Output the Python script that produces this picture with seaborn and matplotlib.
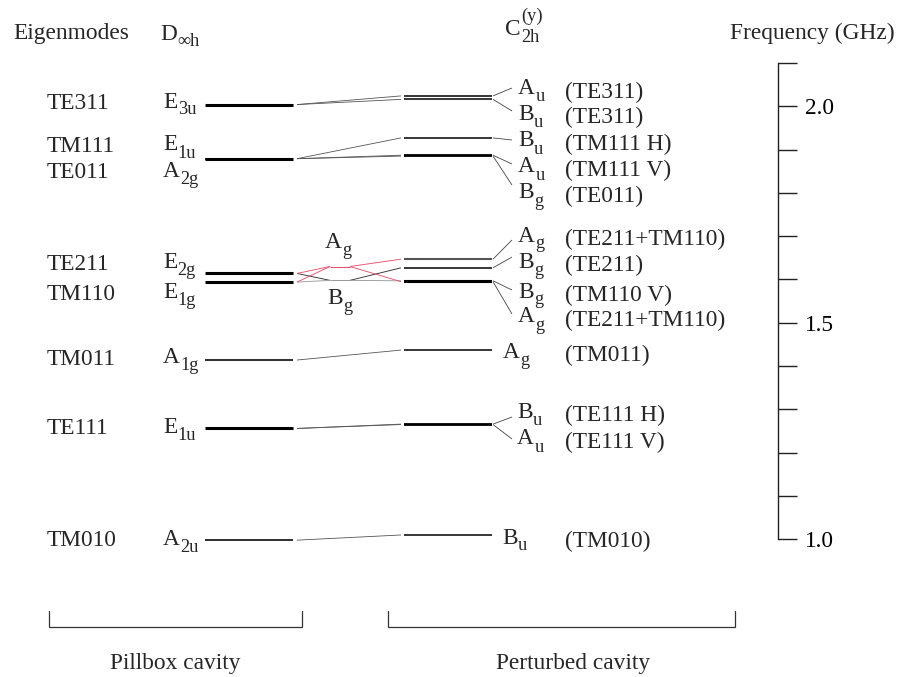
import numpy as np
import pandas as pd
import matplotlib
matplotlib.use("Agg")
import matplotlib.pyplot as plt
import seaborn as sns

# ------------------------------------------------------------------ data
# Pillbox cavity (D_inf_h) eigenmodes
pill_modes = ["TE311", "TM111", "TE011", "TE211", "TM110", "TM011", "TE111", "TM010"]
pill_symm = [("E", "3u"), ("E", "1u"), ("A", "2g"), ("E", "2g"), ("E", "1g"),
             ("A", "1g"), ("E", "1u"), ("A", "2u")]
pill_freq = [2.004, 1.879, 1.879, 1.614, 1.594, 1.414, 1.256, 0.998]

# Intermediate (crossing) levels between TE211 / TM110
mid_symm = [("A", "g"), ("B", "g")]
mid_freq = [1.630, 1.598]

# Perturbed cavity (C2h^(y)) modes
pert_symm = [("A", "u"), ("B", "u"), ("B", "u"), ("A", "u"), ("B", "g"), ("A", "g"),
             ("B", "g"), ("B", "g"), ("A", "g"), ("A", "g"), ("B", "u"), ("A", "u"),
             ("B", "u")]
pert_modes = ["(TE311)", "(TE311)", "(TM111 H)", "(TM111 V)", "(TE011)",
              "(TE211+TM110)", "(TE211)", "(TM110 V)", "(TE211+TM110)",
              "(TM011)", "(TE111 H)", "(TE111 V)", "(TM010)"]
pert_freq = [2.024, 2.016, 1.927, 1.887, 1.885, 1.647, 1.627, 1.597, 1.595,
             1.437, 1.266, 1.265, 1.010]
# direct parent in pillbox list (None -> via intermediate crossing)
pert_parent = [0, 0, 1, 1, 2, None, None, None, None, 5, 6, 6, 7]

# crossing connections: (pillbox idx, mid idx, kind) and (mid idx, pert idx, kind)
pill_to_mid = [(3, 0, "red"), (4, 0, "red"), (3, 1, "dark"), (4, 1, "gray")]
mid_to_pert = [(0, 5, "red"), (0, 8, "red"), (1, 6, "dark"), (1, 7, "gray")]

freq_ticks = [1.0, 1.1, 1.2, 1.3, 1.4, 1.5, 1.6, 1.7, 1.8, 1.9, 2.0, 2.1]
freq_labels = ["1.0", "", "", "", "", "1.5", "", "", "", "", "2.0", ""]

# ------------------------------------------------------------------ layout
W, H = 901, 677
PX0, PPG = 539.3, 433.0          # pixel row of 1.0 GHz, pixels per GHz


def f(py):                        # pixel row -> frequency (layout helper)
    return 1.0 + (PX0 - py) / PPG


FS = 16.8
SUB = 13.2
sns.set_theme(style="white")
plt.rcParams["font.family"] = ["Liberation Serif", "DejaVu Serif", "DejaVu Sans"]

fig = plt.figure(figsize=(W / 100, H / 100), dpi=100)
fig.patch.set_facecolor("white")
ax = fig.add_axes([0, 0, 1, 1])
renderer = fig.canvas.get_renderer()

RED = "#e8506e"
COL = {"red": RED, "dark": "#333333", "gray": "#9a9a9a"}

# x extents (layout)
PB = (205, 293)      # pillbox levels
PT = (404, 492)      # perturbed levels
CX = (297, 401)      # connectors
MX = (330, 350)      # crossing intermediate
FX = (493, 512)      # fans

segs = []            # x0, x1, y0, y1, color, lw


def seg(x0, x1, y0, y1, color, lw):
    segs.append(dict(x0=x0, x1=x1, y0=y0, y1=y1, color=color, lw=lw))


# pillbox levels (degenerate E levels drawn thicker)
for s, fr in zip(pill_symm, pill_freq):
    seg(PB[0], PB[1], fr, fr, "black", 2.2 if s[0] == "E" else 1.15)

# perturbed levels
pert_lw = [1.1, 1.1, 1.1, 1.3, 1.3, 1.5, 1.1, 1.5, 1.5, 1.1, 1.3, 1.3, 1.1]
pert_col = ["black"] * 13
pert_col[5] = "#555555"
for fr, lw, c in zip(pert_freq, pert_lw, pert_col):
    seg(PT[0], PT[1], fr, fr, c, lw)

# direct connectors
for i, p in enumerate(pert_parent):
    if p is not None:
        seg(CX[0], CX[1], pill_freq[p], pert_freq[i], "#555555", 0.6)

# crossing
for m, fr in enumerate(mid_freq):
    seg(MX[0], MX[1], fr, fr, RED if m == 0 else COL["gray"], 0.75)
for p, m, k in pill_to_mid:
    seg(CX[0], MX[0], pill_freq[p], mid_freq[m], COL[k], 0.65)
for m, q, k in mid_to_pert:
    seg(MX[1], CX[1], mid_freq[m], pert_freq[q], COL[k], 0.65)

# fans from perturbed level to its label
fan_target = [88, 111, 140, 164, 185, 240, 257, 290, 314, None, 417, 439, None]
for fr, t in zip(pert_freq, fan_target):
    if t is not None:
        seg(FX[0], FX[1], fr, f(t), "#444444", 0.6)

# draw all segments with seaborn, grouped by style
rows = []
for k, s in enumerate(segs):
    rows.append(dict(x=s["x0"], y=s["y0"], seg=k, color=s["color"], lw=s["lw"]))
    rows.append(dict(x=s["x1"], y=s["y1"], seg=k, color=s["color"], lw=s["lw"]))
df = pd.DataFrame(rows)
for (c, lw), g in df.groupby(["color", "lw"]):
    sns.lineplot(data=g, x="x", y="y", units="seg", estimator=None, sort=False,
                 color=c, lw=lw, ax=ax, legend=False, solid_capstyle="butt")
ax.set_xlim(0, W)
ax.set_ylim(f(H), f(0))
ax.axis("off")


# ------------------------------------------------------------------ texts
def T(x, y, s, size=FS, ha="left"):
    t = fig.text(x / W, 1 - y / H, s, fontsize=size, va="baseline", ha=ha)
    return t


def SYM(x, y, main, sub=None, sup=None, drop=7.0, rise=14.5):
    t = T(x, y, main)
    bb = t.get_window_extent(renderer)
    xr = bb.x1 + 0.5
    if sub:
        T(xr, y + drop, sub, size=SUB)
    if sup:
        T(xr, y - rise, sup, size=SUB)


T(13, 39.5, "Eigenmodes")
SYM(160, 39.5, "D", "\u221eh")
SYM(505, 35, "C", "2h", "(y)", drop=6.5)
T(730, 39.5, "Frequency (GHz)")

pill_base = [109, 152.5, 178, 270, 300, 365, 434, 546]
pill_sym_base = [107.5, 150.5, 177, 268, 298, 363, 433, 545]
for m, s, yb, ys in zip(pill_modes, pill_symm, pill_base, pill_sym_base):
    T(46.5, yb, m)
    SYM(163, ys, s[0], s[1])

# crossing labels
SYM(325, 248, *mid_symm[0])
SYM(327, 304, *mid_symm[1])

pert_base = [97.7, 123.3, 150, 176, 202, 245, 271.5, 301, 326, 361.5, 421.5, 448, 547]
pert_sx = [518, 518, 518, 518, 518, 518, 518, 518, 518, 503, 517, 517, 502]
for s, m, yb, sx in zip(pert_symm, pert_modes, pert_base, pert_sx):
    SYM(sx, yb - 3.5, s[0], s[1])
    T(565, yb, m)

# brackets and bottom captions
for x0, x1 in [(49, 302), (388, 735)]:
    ax.plot([x0, x0, x1, x1], [f(611), f(627), f(627), f(611)], color="#333333",
            lw=0.9, solid_joinstyle="miter")
T(175, 669, "Pillbox cavity", ha="center")
T(573, 669, "Perturbed cavity", ha="center")

# ------------------------------------------------------------------ frequency axis
ax2 = fig.add_axes([778 / W, 1 - PX0 / H, 19 / W, (PX0 - 63) / H])
ax2.set_facecolor("none")
ax2.set_ylim(freq_ticks[0], freq_ticks[-1])
ax2.set_xticks([])
ax2.yaxis.tick_right()
ax2.set_yticks(freq_ticks)
ax2.set_yticklabels(freq_labels)
for side in ["top", "right", "bottom"]:
    ax2.spines[side].set_visible(False)
ax2.spines["left"].set_visible(True)
ax2.spines["left"].set_color("#222222")
ax2.spines["left"].set_linewidth(1.0)
ax2.tick_params(axis="y", direction="in", length=19 * 0.72, width=1.0,
                color="#222222", pad=6, labelsize=FS, labelcolor="black",
                right=True, left=False)

fig.savefig("out.png", dpi=100, facecolor="white")
